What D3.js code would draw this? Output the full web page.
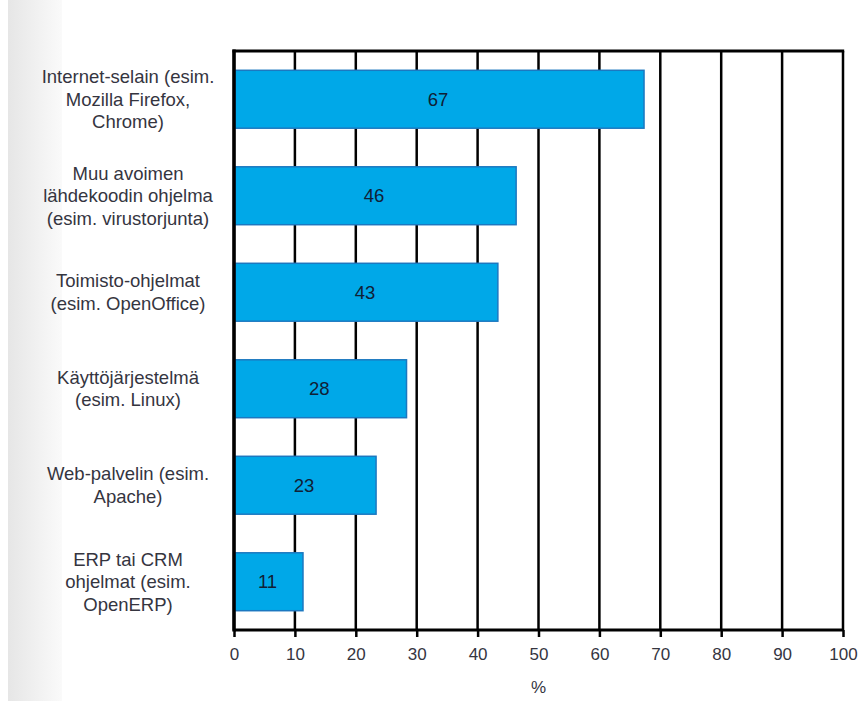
<!DOCTYPE html>
<html>
<head>
<meta charset="utf-8">
<script src="https://cdn.jsdelivr.net/npm/d3@7"></script>
<style>
  html, body { margin: 0; padding: 0; background: #fff; }
  svg { display: block; font-family: "Liberation Sans", Arial, sans-serif; }
</style>
</head>
<body>
<svg id="chart" width="861" height="701"></svg>
<script>
// Open-source software usage (%), one bar per category
const categories = [
  ["Internet-selain (esim.", "Mozilla Firefox,", "Chrome)"],
  ["Muu avoimen", "lähdekoodin ohjelma", "(esim. virustorjunta)"],
  ["Toimisto-ohjelmat", "(esim. OpenOffice)"],
  ["Käyttöjärjestelmä", "(esim. Linux)"],
  ["Web-palvelin (esim.", "Apache)"],
  ["ERP tai CRM", "ohjelmat (esim.", "OpenERP)"]
];
const values = [67, 46, 43, 28, 23, 11];
const xTicks = [0, 10, 20, 30, 40, 50, 60, 70, 80, 90, 100];
const axisTitle = "%";

const svg = d3.select("#chart");
const W = 861, H = 701;
const margin = { left: 234, right: 18, top: 51, bottom: 71 };
const plotW = W - margin.left - margin.right;
const plotH = H - margin.top - margin.bottom;

// soft grey strip along the left edge
const defs = svg.append("defs");
const grad = defs.append("linearGradient").attr("id", "strip").attr("x1", 0).attr("x2", 1);
grad.append("stop").attr("offset", 0).attr("stop-color", "#e6e6e6");
grad.append("stop").attr("offset", 0.5).attr("stop-color", "#f0f0f0");
grad.append("stop").attr("offset", 1).attr("stop-color", "#fafafa");
svg.append("rect").attr("x", 8).attr("y", 0).attr("width", 54).attr("height", H).attr("fill", "url(#strip)");

const x = d3.scaleLinear().domain([0, 100]).range([0, plotW]);
const y = d3.scaleBand().domain(d3.range(categories.length)).range([0, plotH]).paddingInner(0.4).paddingOuter(0.2);

const g = svg.append("g").attr("transform", `translate(${margin.left},${margin.top})`);

// vertical gridlines
g.selectAll("line.grid").data(xTicks).join("line")
  .attr("class", "grid")
  .attr("x1", d => x(d)).attr("x2", d => x(d))
  .attr("y1", 0).attr("y2", plotH)
  .attr("stroke", "#000").attr("stroke-width", 2.5);

// top border
g.append("line").attr("x1", -1.5).attr("x2", plotW + 1.2).attr("y1", 0).attr("y2", 0)
  .attr("stroke", "#000").attr("stroke-width", 3);

// bars
g.selectAll("rect.bar").data(values).join("rect")
  .attr("class", "bar")
  .attr("x", x(0) + 1)
  .attr("y", (d, i) => y(i))
  .attr("width", d => x(d) - x(0) + 1)
  .attr("height", y.bandwidth())
  .attr("fill", "#00a8e8")
  .attr("stroke", "#1c78c0")
  .attr("stroke-width", 1.5);

// value labels
g.selectAll("text.val").data(values).join("text")
  .attr("class", "val")
  .attr("x", d => (x(0) + x(d)) / 2)
  .attr("y", (d, i) => y(i) + y.bandwidth() / 2)
  .attr("dy", "0.35em")
  .attr("text-anchor", "middle")
  .attr("font-size", 18.5)
  .attr("fill", "#102035")
  .text(d => d);

// left axis line (drawn over bars)
g.append("line").attr("x1", 0).attr("x2", 0).attr("y1", -1.5).attr("y2", plotH + 1.5)
  .attr("stroke", "#000").attr("stroke-width", 3.5);

// category labels
const labelCx = -106;
categories.forEach((lines, i) => {
  const cy = y(i) + y.bandwidth() / 2;
  const lh = 22.5;
  const t = g.append("text")
    .attr("text-anchor", "middle")
    .attr("font-size", 18.5)
    .attr("fill", "#35353f");
  lines.forEach((ln, j) => {
    t.append("tspan")
      .attr("x", labelCx)
      .attr("y", cy + (j - (lines.length - 1) / 2) * lh)
      .attr("dy", "0.35em")
      .text(ln);
  });
});

// bottom axis
const xAxis = d3.axisBottom(x).tickValues(xTicks).tickSize(7).tickPadding(11).tickFormat(d3.format("d"));
const ax = g.append("g").attr("transform", `translate(0,${plotH})`).call(xAxis);
ax.select(".domain").attr("stroke", "#000").attr("stroke-width", 3).attr("d", `M0,0H${plotW}`);
ax.selectAll(".tick line").attr("stroke", "#000").attr("stroke-width", 2.5);
ax.selectAll(".tick text").attr("font-size", 17).attr("fill", "#35353f")
  .attr("font-family", "'Liberation Sans', Arial, sans-serif");

// axis title
g.append("text")
  .attr("x", x(50)).attr("y", plotH + 63)
  .attr("text-anchor", "middle")
  .attr("font-size", 17)
  .attr("fill", "#35353f")
  .text(axisTitle);
</script>
</body>
</html>
